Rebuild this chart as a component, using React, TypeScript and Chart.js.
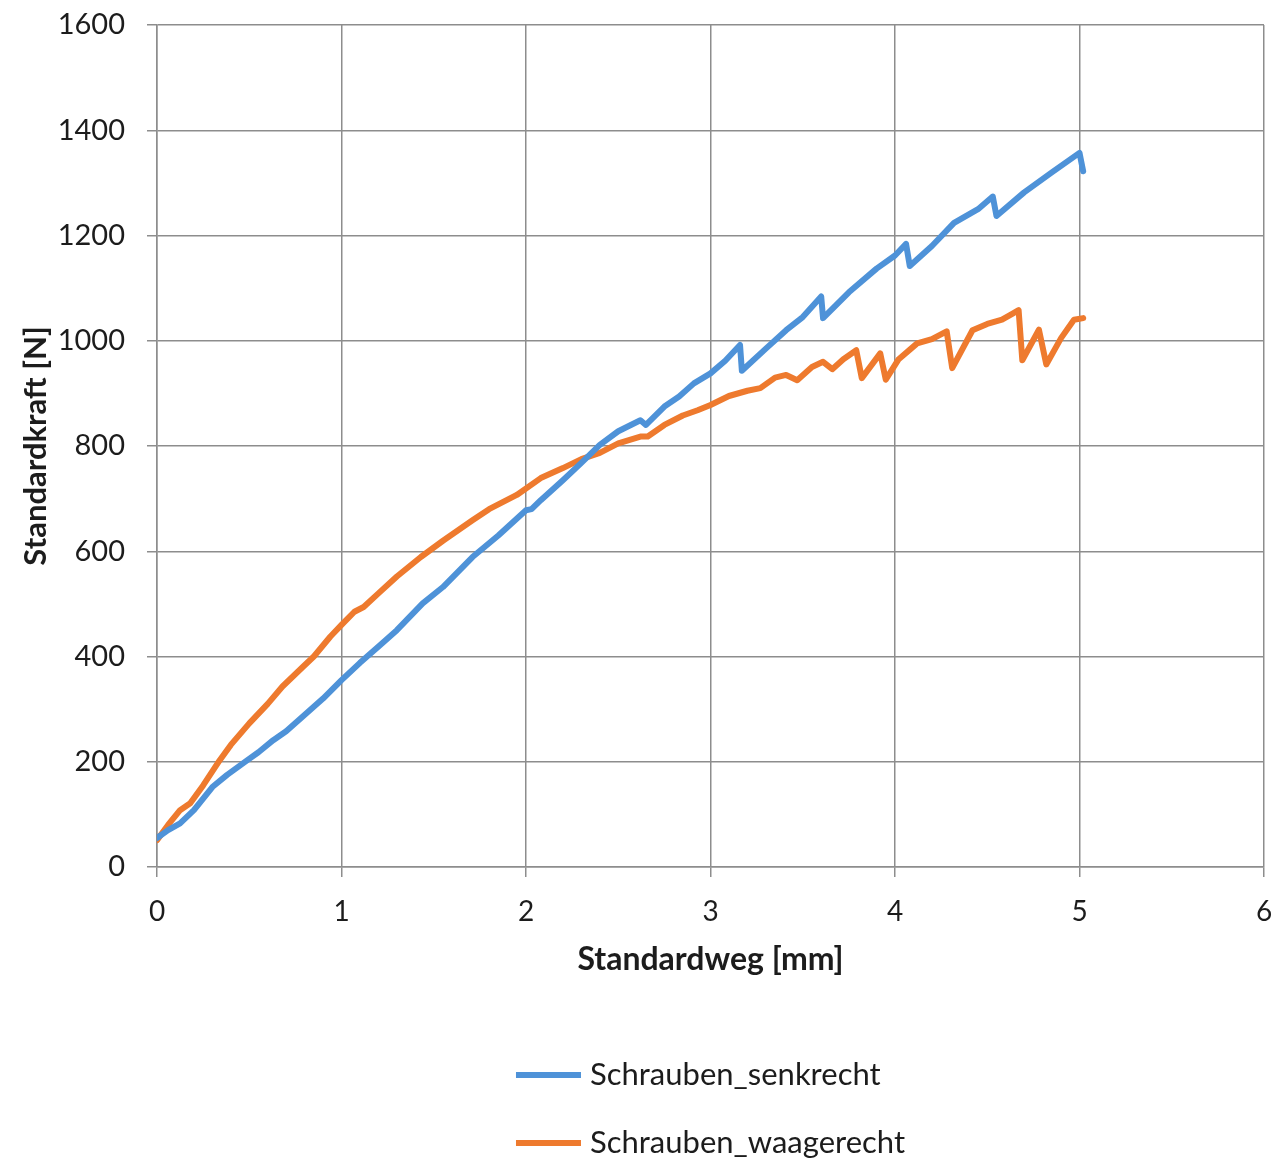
import React, { useEffect, useRef } from "react";
import { Chart, registerables } from "chart.js";

Chart.register(...registerables);

// ---- Data ----
const seriesLabels = ["Schrauben_senkrecht", "Schrauben_waagerecht"];
const seriesColors = ["#4E92D8", "#EE7A2E"];

const senkrechtX = [
  0, 0.06, 0.125, 0.2, 0.3, 0.38, 0.49, 0.55, 0.63, 0.7, 0.81, 0.9, 1.0, 1.1,
  1.21, 1.3, 1.44, 1.55, 1.71, 1.85, 2.0, 2.03, 2.08, 2.2, 2.3, 2.4, 2.5, 2.62,
  2.65, 2.75, 2.83, 2.91, 3.0, 3.08, 3.16, 3.17, 3.3, 3.41, 3.5, 3.6, 3.61, 3.75,
  3.9, 4.0, 4.06, 4.08, 4.2, 4.32, 4.45, 4.53, 4.55, 4.7, 4.85, 5.0, 5.02,
];
const senkrechtY = [
  55, 70, 83, 108, 152, 175, 203, 218, 241, 258, 292, 320, 355, 388,
  422, 450, 501, 532, 589, 630, 678, 680, 697, 735, 768, 802, 828, 849,
  840, 875, 894, 919, 938, 962, 992, 943, 985, 1020, 1045, 1084, 1043, 1092,
  1137, 1162, 1184, 1142, 1180, 1224, 1250, 1274, 1237, 1282, 1320, 1357, 1322,
];

const waagerechtX = [
  0, 0.06, 0.125, 0.18, 0.25, 0.34, 0.4, 0.5, 0.6, 0.68, 0.79, 0.85, 0.94, 1.0,
  1.07, 1.12, 1.2, 1.3, 1.43, 1.55, 1.71, 1.8, 1.95, 2.08, 2.2, 2.3, 2.4, 2.5,
  2.62, 2.66, 2.75, 2.85, 2.93, 3.0, 3.1, 3.2, 3.27, 3.35, 3.41, 3.47, 3.55,
  3.61, 3.66, 3.72, 3.79, 3.82, 3.92, 3.95, 4.02, 4.12, 4.2, 4.28, 4.31, 4.42,
  4.5, 4.58, 4.64, 4.67, 4.69, 4.78, 4.82, 4.9, 4.97, 5.02,
];
const waagerechtY = [
  51, 80, 108, 121, 155, 203, 232, 273, 310, 343, 380, 400, 438, 460,
  485, 494, 520, 552, 589, 620, 659, 680, 707, 739, 758, 775, 787, 805,
  818, 818, 840, 858, 868, 878, 895, 905, 910, 930, 935, 925, 950,
  960, 946, 965, 982, 929, 976, 926, 965, 995, 1003, 1018, 948, 1020,
  1032, 1040, 1052, 1058, 963, 1021, 955, 1005, 1040, 1043,
];

const xMin = 0;
const xMax = 6;
const xStep = 1;
const yMin = 0;
const yMax = 1600;
const yStep = 200;

const xAxisTitle = "Standardweg [mm]";
const yAxisTitle = "Standardkraft [N]";

const FONT = "Lato";
const GRID = "#8d8d8d";
const TEXT = "#1c1c1c";

function toPoints(xs: number[], ys: number[]) {
  return xs.map((x, i) => ({ x, y: ys[i] }));
}

const bottomLegend = {
  id: "bottomLegend",
  afterDraw(chart: any) {
    const ctx = chart.ctx as CanvasRenderingContext2D;
    const area = chart.chartArea;
    ctx.save();
    ctx.font = `31px ${FONT}`;
    const lineLen = 65;
    const gap = 9;
    const widths = chart.data.datasets.map(
      (d: any) => lineLen + gap + ctx.measureText(d.label).width
    );
    const w = Math.max(...widths);
    const x0 = (area.left + area.right) / 2 - w / 2;
    chart.data.datasets.forEach((d: any, i: number) => {
      const y = chart.height - 91 + i * 68;
      ctx.strokeStyle = d.borderColor;
      ctx.lineWidth = 6;
      ctx.lineCap = "butt";
      ctx.beginPath();
      ctx.moveTo(x0, y);
      ctx.lineTo(x0 + lineLen, y);
      ctx.stroke();
      ctx.fillStyle = TEXT;
      ctx.textBaseline = "middle";
      ctx.textAlign = "left";
      ctx.fillText(d.label, x0 + lineLen + gap, y);
    });
    ctx.restore();
  },
};

export default function App() {
  const canvasRef = useRef<HTMLCanvasElement | null>(null);

  useEffect(() => {
    const canvas = canvasRef.current;
    if (!canvas) return;
    const chart = new Chart(canvas, {
      type: "line",
      data: {
        datasets: [
          {
            label: seriesLabels[0],
            data: toPoints(senkrechtX, senkrechtY),
            borderColor: seriesColors[0],
            backgroundColor: seriesColors[0],
            borderWidth: 6,
            pointRadius: 0,
            tension: 0,
            borderJoinStyle: "round",
            borderCapStyle: "round",
            fill: false,
          },
          {
            label: seriesLabels[1],
            data: toPoints(waagerechtX, waagerechtY),
            borderColor: seriesColors[1],
            backgroundColor: seriesColors[1],
            borderWidth: 6,
            pointRadius: 0,
            tension: 0,
            borderJoinStyle: "round",
            borderCapStyle: "round",
            fill: false,
          },
        ],
      },
      options: {
        animation: false,
        responsive: false,
        maintainAspectRatio: false,
        layout: {
          autoPadding: false,
          padding: { top: 25, right: 17, left: 0, bottom: 179 },
        },
        plugins: {
          legend: { display: false },
          tooltip: { enabled: false },
        },
        scales: {
          x: {
            type: "linear",
            min: xMin,
            max: xMax,
            ticks: {
              stepSize: xStep,
              padding: 18,
              color: TEXT,
              font: { family: FONT, size: 28 },
              maxRotation: 0,
              callback: (v: any) => String(v),
            },
            grid: { color: GRID, lineWidth: 1.5, tickLength: 10 },
            border: { color: GRID, width: 1.5 },
            title: {
              display: true,
              text: xAxisTitle,
              color: TEXT,
              font: { family: FONT, size: 32, weight: "bold" },
              padding: { top: 0, bottom: 8 },
            },
            afterFit(scale: any) {
              scale.height = 120;
              scale.paddingLeft = 0;
              scale.paddingRight = 0;
            },
          },
          y: {
            type: "linear",
            min: yMin,
            max: yMax,
            ticks: {
              stepSize: yStep,
              padding: 22,
              color: TEXT,
              font: { family: FONT, size: 29 },
              callback: (v: any) => String(v),
            },
            grid: { color: GRID, lineWidth: 1.5, tickLength: 10 },
            border: { color: GRID, width: 1.5 },
            title: {
              display: true,
              text: yAxisTitle,
              color: TEXT,
              font: { family: FONT, size: 31, weight: "bold" },
              padding: { top: 17, bottom: 0 },
            },
            afterFit(scale: any) {
              scale.width = 157;
              scale.paddingTop = 0;
              scale.paddingBottom = 0;
            },
          },
        },
      },
      plugins: [bottomLegend],
    });
    return () => chart.destroy();
  }, []);

  return (
    <div
      style={{
        position: "absolute",
        left: 0,
        top: 0,
        width: 1281,
        height: 1166,
        background: "#ffffff",
      }}
    >
      <canvas
        ref={canvasRef}
        width={1281}
        height={1166}
        style={{ display: "block", width: 1281, height: 1166 }}
      />
    </div>
  );
}
